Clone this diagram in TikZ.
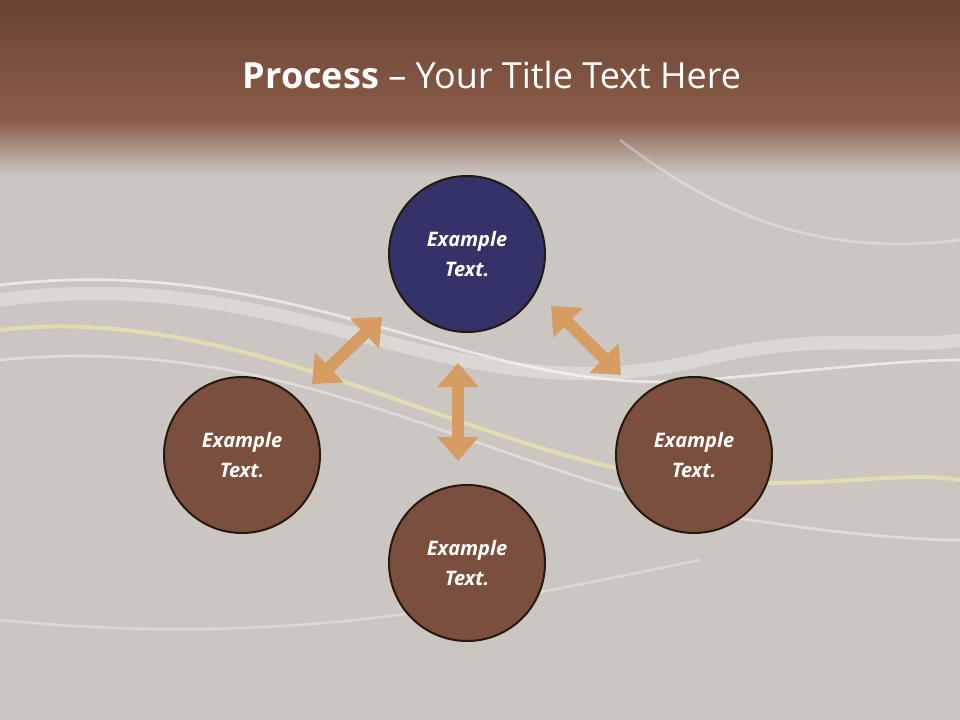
\documentclass[tikz,border=0pt]{standalone}
\usepackage{fontspec}
\setmainfont{Open Sans}
\usetikzlibrary{arrows.meta}
\definecolor{bg}{HTML}{CBC6C2}
\definecolor{brtop}{HTML}{6A4334}
\definecolor{brmid}{HTML}{8A5C48}
\definecolor{navy}{HTML}{33336A}
\definecolor{brc}{HTML}{7A4F3E}
\definecolor{arr}{HTML}{D69C62}
\tikzset{
 circ/.style={circle,draw=black!80!brown,line width=1.5pt,minimum size=117pt,inner sep=0pt,text=white,font=\bfseries\itshape\fontsize{15}{22}\selectfont,align=center},
 dbl/.style={arr,line width=9pt,{Triangle[width=30pt,length=18pt]}-{Triangle[width=30pt,length=18pt]}},
 wave/.style={white,opacity=0.5,line width=2pt}
}
\begin{document}
\begin{tikzpicture}[x=0.75pt,y=-0.75pt]
\useasboundingbox (0,0) rectangle (960,720);
\fill[bg] (0,0) rectangle (960,720);
\shade[top color=brtop,bottom color=brmid] (0,0) rectangle (960,120);
\shade[top color=brmid,bottom color=bg] (0,120) rectangle (960,175);
% waves
\draw[wave,line width=10pt,opacity=0.3] (0,300) .. controls (300,260) and (450,420) .. (700,360) .. controls (820,330) and (900,350) .. (960,340);
\draw[wave,opacity=0.6] (0,285) .. controls (300,250) and (480,400) .. (700,380) .. controls (820,370) and (900,360) .. (960,360);
\draw[yellow!40!white,opacity=0.45,line width=3pt] (0,330) .. controls (250,300) and (500,470) .. (700,480) .. controls (820,490) and (900,470) .. (960,480);
\draw[wave,opacity=0.4] (0,360) .. controls (300,330) and (500,480) .. (750,520) .. controls (850,535) and (920,540) .. (960,540);
\draw[wave,opacity=0.3] (620,140) .. controls (700,200) and (800,260) .. (960,240);
\draw[wave,opacity=0.3] (0,620) .. controls (300,650) and (500,600) .. (700,560);
\node[white,font=\fontsize{27}{32}\selectfont] (title) at (492,75) {\textbf{Process} – Your Title Text Here};
\node[circ,fill=navy] (top) at (467,254) {Example\\Text.};
\node[circ,fill=brc] (left) at (242,455) {Example\\Text.};
\node[circ,fill=brc] (right) at (694,455) {Example\\Text.};
\node[circ,fill=brc] (bot) at (467,563) {Example\\Text.};
\coordinate (a1) at (312,384); \coordinate (a2) at (382,317);
\coordinate (b1) at (551,306); \coordinate (b2) at (621,375);
\coordinate (c1) at (458,363); \coordinate (c2) at (458,461);
\draw[dbl] (a1) -- (a2);
\draw[dbl] (b1) -- (b2);
\draw[dbl] (c1) -- (c2);
\end{tikzpicture}
\end{document}
